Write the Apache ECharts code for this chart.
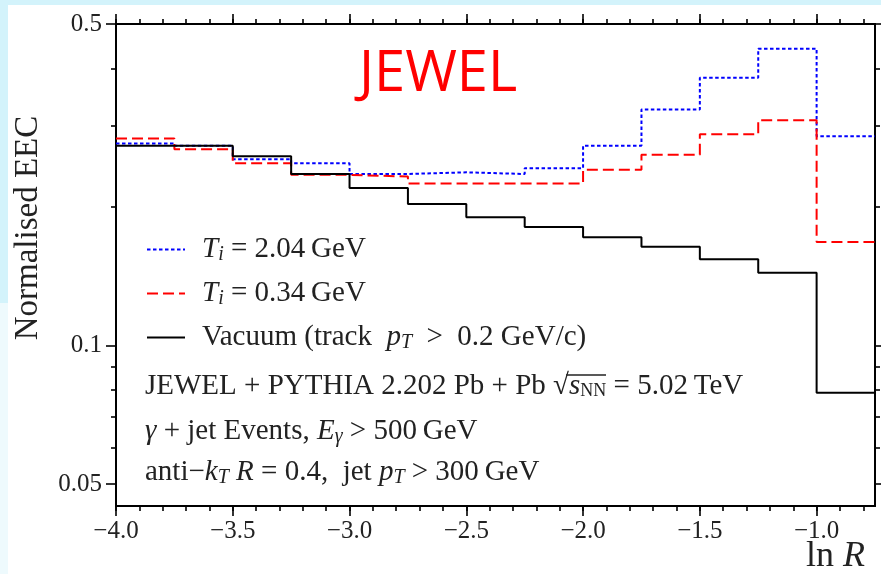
<!DOCTYPE html>
<html>
<head>
<meta charset="utf-8">
<script src="https://cdn.jsdelivr.net/npm/echarts@6/dist/echarts.min.js"></script>
<style>
  html, body { margin: 0; padding: 0; background: #ffffff; }
  #chart { width: 881px; height: 574px; }
</style>
</head>
<body>
<div id="chart"></div>
<script>
// Bin edges in ln R (13 bins of width 0.25)
const binEdges = [-4.0, -3.75, -3.5, -3.25, -3.0, -2.75, -2.5, -2.25, -2.0, -1.75, -1.5, -1.25, -1.0, -0.75];

// Normalised EEC per bin
const eecHot = [0.275, 0.272, 0.254, 0.249, 0.236, 0.238, 0.236, 0.243, 0.272, 0.326, 0.382, 0.442, 0.285];     // T_i = 2.04 GeV
const eecCool = [0.282, 0.267, 0.249, 0.235, 0.233, 0.225, 0.225, 0.225, 0.241, 0.260, 0.288, 0.309, 0.168];    // T_i = 0.34 GeV
const eecVacuum = [0.272, 0.272, 0.258, 0.236, 0.220, 0.203, 0.190, 0.181, 0.172, 0.164, 0.154, 0.144, 0.079];  // vacuum

const seriesNames = ['hot', 'cool', 'vacuum'];

// Tick positions
const xMajorTicks = [-4.0, -3.5, -3.0, -2.5, -2.0, -1.5, -1.0];
const xMinorTicks = [-4.0, -3.9, -3.8, -3.7, -3.6, -3.5, -3.4, -3.3, -3.2, -3.1, -3.0, -2.9, -2.8, -2.7, -2.6,
                     -2.5, -2.4, -2.3, -2.2, -2.1, -2.0, -1.9, -1.8, -1.7, -1.6, -1.5, -1.4, -1.3, -1.2, -1.1,
                     -1.0, -0.9, -0.8];
const yMajorTicks = [0.05, 0.1, 0.5];
const yMinorTicks = [0.06, 0.07, 0.08, 0.09, 0.2, 0.3, 0.4];

const X_MIN = -4.0, X_MAX = -0.75;
const Y_MIN = 0.0448, Y_MAX = 0.5;

const SERIF = '"Liberation Serif", "DejaVu Serif", serif';
const INK = '#222222';

// histogram as step line: left edge of each bin, plus the closing right edge
function histPoints(values) {
  const pts = values.map((v, i) => [binEdges[i], v]);
  pts.push([binEdges[binEdges.length - 1], values[values.length - 1]]);
  return pts;
}

function fmtX(v) {
  return (v < 0 ? '\u2212' : '') + Math.abs(v).toFixed(1);
}

const axisLineStyle = { color: '#000', width: 2 };

function xAxisDef(position, ticks, len, withLabels) {
  return {
    type: 'value', min: X_MIN, max: X_MAX, position: position,
    axisLine: { show: true, onZero: false, lineStyle: axisLineStyle },
    axisTick: { show: true, customValues: ticks, length: len, lineStyle: { color: '#000', width: 1.6 } },
    axisLabel: withLabels ? {
      show: true, customValues: xMajorTicks, formatter: fmtX, margin: 13,
      fontFamily: SERIF, fontSize: 25, color: INK
    } : { show: false },
    splitLine: { show: false }
  };
}

function yAxisDef(position, ticks, len, withLabels) {
  return {
    type: 'log', logBase: 10, min: Y_MIN, max: Y_MAX, position: position,
    axisLine: { show: true, lineStyle: axisLineStyle },
    axisTick: { show: true, customValues: ticks, length: len, lineStyle: { color: '#000', width: 1.6 } },
    axisLabel: withLabels ? {
      show: true, customValues: yMajorTicks, formatter: v => String(v), margin: 14,
      fontFamily: SERIF, fontSize: 25, color: INK
    } : { show: false },
    splitLine: { show: false },
    minorTick: { show: false }
  };
}

const FS = 29;
const mathRich = {
  it: { fontFamily: SERIF, fontStyle: 'italic', fontSize: FS, color: INK, lineHeight: 30 },
  t: { fontFamily: SERIF, fontSize: FS, color: INK, lineHeight: 30 },
  sub: { fontFamily: SERIF, fontStyle: 'italic', fontSize: 20, color: INK, lineHeight: 18, padding: [11, 0, 0, 0] },
  subr: { fontFamily: SERIF, fontSize: 18, color: INK, lineHeight: 18, padding: [11, 0, 0, 0] },
  g: { width: 12, lineHeight: 30 }
};

const legendText = {
  hot: '{g| }{it|T}{sub|i}{t| = 2.04\u2009GeV}',
  cool: '{g| }{it|T}{sub|i}{t| = 0.34\u2009GeV}',
  vacuum: '{g| }{t|Vacuum (track\u2002}{it|p}{sub|T}{t|\u2002>\u20020.2 GeV/c)}'
};

const chart = echarts.init(document.getElementById('chart'), null, { renderer: 'canvas' });

const textBase = { align: 'left', verticalAlign: 'middle', textAlign: 'left', textVerticalAlign: 'middle' };

chart.setOption({
  backgroundColor: '#ffffff',
  animation: false,
  grid: { left: 116, right: 6, top: 24, bottom: 68, outerBoundsMode: 'none', containLabel: false },
  xAxis: [
    xAxisDef('bottom', xMajorTicks, 10, true),
    xAxisDef('bottom', xMinorTicks, 5, false),
    xAxisDef('top', xMajorTicks, 10, false),
    xAxisDef('top', xMinorTicks, 5, false)
  ],
  yAxis: [
    yAxisDef('left', yMajorTicks, 10, true),
    yAxisDef('left', yMinorTicks, 5, false),
    yAxisDef('right', yMajorTicks, 10, false),
    yAxisDef('right', yMinorTicks, 5, false)
  ],
  legend: {
    show: true, orient: 'vertical', left: 141, top: 229,
    itemWidth: 38, itemHeight: 14, itemGap: 13, selectedMode: false,
    data: seriesNames,
    itemStyle: { opacity: 0 },
    formatter: name => legendText[name],
    textStyle: { fontFamily: SERIF, fontSize: FS, color: INK, rich: mathRich }
  },
  series: [
    {
      name: 'hot', type: 'line', step: 'end', symbol: 'none', data: histPoints(eecHot),
      lineStyle: { color: '#0000ff', width: 2, type: [3.5, 2.5] }, itemStyle: { color: '#0000ff' }, z: 3
    },
    {
      name: 'cool', type: 'line', step: 'end', symbol: 'none', data: histPoints(eecCool),
      lineStyle: { color: '#ff0000', width: 2, type: [11, 5] }, itemStyle: { color: '#ff0000' }, z: 4
    },
    {
      name: 'vacuum', type: 'line', step: 'end', symbol: 'none', data: histPoints(eecVacuum),
      lineStyle: { color: '#000000', width: 2, type: 'solid' }, itemStyle: { color: '#000000' }, z: 5
    }
  ],
  graphic: [
    // light frame strips along the top and left edges
    { type: 'rect', shape: { x: 0, y: 0, width: 881, height: 5 }, style: { fill: '#d3f3fb' }, silent: true, z: -10 },
    { type: 'rect', shape: { x: 0, y: 0, width: 8, height: 303 }, style: { fill: '#d3f3fb' }, silent: true, z: -10 },
    { type: 'rect', shape: { x: 0, y: 303, width: 8, height: 271 }, style: { fill: '#eefafd' }, silent: true, z: -10 },
    {
      type: 'text', x: 359, y: 75,
      style: Object.assign({ text: 'JEWEL', fill: '#ff0000', font: '56px "Open Sans", "Noto Sans", sans-serif' }, textBase)
    },
    {
      type: 'text', x: 28, y: 228, rotation: Math.PI / 2,
      style: { text: 'Normalised EEC', fill: INK, font: '33px ' + SERIF,
               align: 'center', verticalAlign: 'middle', textAlign: 'center', textVerticalAlign: 'middle' }
    },
    {
      type: 'text', x: 806, y: 557,
      style: Object.assign({ text: '{t|ln }{it|R}', fill: INK, font: '36px ' + SERIF,
               rich: { t: { fontFamily: SERIF, fontSize: 36, color: INK }, it: { fontFamily: SERIF, fontSize: 36, fontStyle: 'italic', color: INK } } }, textBase)
    },
    {
      type: 'text', x: 145, y: 386,
      style: Object.assign({ text: '{t|JEWEL + PYTHIA 2.202 Pb + Pb \u221A}{it|s}{subr|NN}{t| = 5.02\u2009TeV}', fill: INK, font: FS + 'px ' + SERIF,
               rich: mathRich }, textBase)
    },
    // vinculum of the square root over s_NN
    { type: 'line', shape: { x1: 566, y1: 375, x2: 606, y2: 375 }, style: { stroke: INK, lineWidth: 1.4 }, silent: true },
    {
      type: 'text', x: 145, y: 431,
      style: Object.assign({ text: '{it|\u03B3}{t| + jet Events, }{it|E}{sub|\u03B3}{t| > 500\u2009GeV}', fill: INK, font: FS + 'px ' + SERIF,
               rich: mathRich }, textBase)
    },
    {
      type: 'text', x: 145, y: 472,
      style: Object.assign({ text: '{t|anti\u2212}{it|k}{sub|T}{t| }{it|R}{t| = 0.4,  jet }{it|p}{sub|T}{t| > 300\u2009GeV}', fill: INK, font: FS + 'px ' + SERIF,
               rich: mathRich }, textBase)
    }
  ]
});
</script>
</body>
</html>
